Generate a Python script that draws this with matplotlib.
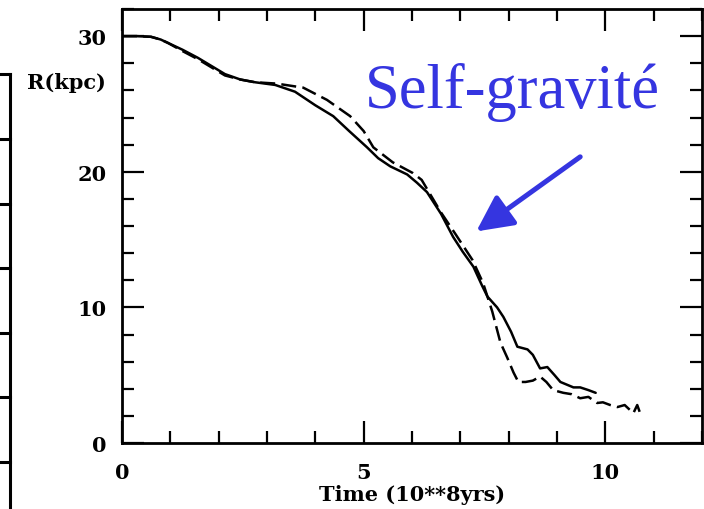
import matplotlib
matplotlib.use("Agg")
import matplotlib.pyplot as plt
from matplotlib.lines import Line2D
from matplotlib.ticker import MultipleLocator

# ---- data ----
t_solid = [0, 0.3, 0.6, 0.8, 0.95, 1.25, 1.57, 1.85, 2.13, 2.45, 2.75, 3.17,
           3.58, 4.0, 4.37, 4.7, 5.07, 5.3, 5.55, 5.9, 6.1, 6.31, 6.6, 6.85,
           7.05, 7.27, 7.45, 7.56, 7.76, 7.89, 8.05, 8.18, 8.39, 8.5, 8.65,
           8.8, 8.95, 9.07, 9.34, 9.48, 9.65, 9.8]
R_solid = [30, 30, 29.95, 29.75, 29.5, 29.0, 28.4, 27.8, 27.2, 26.8, 26.6, 26.4,
           25.9, 24.9, 24.1, 23.0, 21.8, 21.0, 20.4, 19.8, 19.2, 18.5, 16.9, 15.2,
           14.1, 13.0, 11.6, 10.8, 10.0, 9.3, 8.2, 7.1, 6.9, 6.5, 5.5,
           5.6, 5.0, 4.5, 4.1, 4.1, 3.9, 3.7]

t_dash = [0, 0.3, 0.6, 0.8, 0.95, 1.25, 1.57, 1.85, 2.13, 2.45, 2.75, 3.2,
          3.75, 4.24, 4.72, 5.0, 5.2, 5.6, 6.02, 6.2, 6.6, 6.9, 7.25, 7.47,
          7.66, 7.83, 7.97, 8.1, 8.2, 8.35, 8.5, 8.65, 8.78, 8.92, 9.13, 9.3,
          9.48, 9.65, 9.83, 9.95, 10.1, 10.25, 10.4, 10.58, 10.66, 10.72]
R_dash = [30, 30, 29.95, 29.75, 29.5, 28.9, 28.3, 27.7, 27.1, 26.8, 26.6, 26.5,
          26.2, 25.3, 24.1, 23.0, 21.8, 20.7, 19.9, 19.4, 17.0, 15.4, 13.5, 11.8,
          9.7, 7.4, 6.3, 5.2, 4.5, 4.5, 4.6, 4.9, 4.5, 3.9, 3.7, 3.6,
          3.3, 3.4, 2.95, 3.0, 2.8, 2.65, 2.8, 2.2, 2.8, 2.2]

x_major = [0, 5, 10]
x_labels = ["0", "5", "10"]
y_major = [0, 10, 20, 30]
y_labels = ["0", "10", "20", "30"]

annot_text = "Self-gravité"
x_title = "Time (10**8yrs)"
y_title = "R(kpc)"

blue = "#3535e0"
font = "DejaVu Serif"

fig = plt.figure(figsize=(7.04, 5.10), dpi=100)
ax = fig.add_axes([122 / 704, 1 - 444 / 510, 580 / 704, 434 / 510])

ax.plot(t_solid, R_solid, color="black", lw=1.8, solid_capstyle="round",
        solid_joinstyle="round")
ax.plot(t_dash, R_dash, color="black", lw=1.8, linestyle=(0, (6, 2.5)))

ax.set_xlim(0, 12.0)
ax.set_ylim(0, 32.0)

ax.set_xticks(x_major)
ax.set_xticklabels(x_labels)
ax.set_yticks(y_major)
ax.set_yticklabels(y_labels)
ax.xaxis.set_minor_locator(MultipleLocator(1))
ax.yaxis.set_minor_locator(MultipleLocator(2))
ax.tick_params(which="both", direction="in", top=True, right=True, width=1.6,
               colors="black")
ax.tick_params(which="major", length=16)
ax.tick_params(which="minor", length=8.5)
ax.tick_params(axis="x", which="major", pad=14)
ax.tick_params(axis="y", which="major", pad=11)
for lab in ax.get_xticklabels() + ax.get_yticklabels():
    lab.set_fontfamily(font)
    lab.set_fontweight("bold")
    lab.set_fontsize(15)
for sp in ax.spines.values():
    sp.set_linewidth(2.0)

# axis titles
fig.text(66 / 704, 1 - 83 / 510, y_title, family=font, weight="bold",
         fontsize=15, ha="center", va="center")
fig.text(412 / 704, 1 - 495 / 510, x_title, family=font, weight="bold",
         fontsize=15, ha="center", va="center")

# blue annotation
ax.text(5.03, 24.8, annot_text, color=blue, family="Liberation Serif",
        fontsize=45, ha="left", va="baseline")
ax.annotate("", xy=(7.33, 15.6), xytext=(9.48, 21.1),
            arrowprops=dict(arrowstyle="-|>,head_length=1.1,head_width=0.55",
                            color=blue, lw=3.6, mutation_scale=20,
                            shrinkA=0, shrinkB=0))

# remnant of neighbouring panel frame at the left edge
tr = fig.transFigure
def px(x, y):
    return x / 704, 1 - y / 510
lw_edge = 2.2
xs, ys = zip(px(10, 75), px(10, 512))
fig.add_artist(Line2D(xs, ys, color="black", lw=lw_edge, transform=tr))
for yy in [75, 140, 205, 269, 334, 398, 463]:
    xs, ys = zip(px(-2, yy), px(10, yy))
    fig.add_artist(Line2D(xs, ys, color="black", lw=lw_edge, transform=tr))

fig.savefig("out.png", dpi=100)
